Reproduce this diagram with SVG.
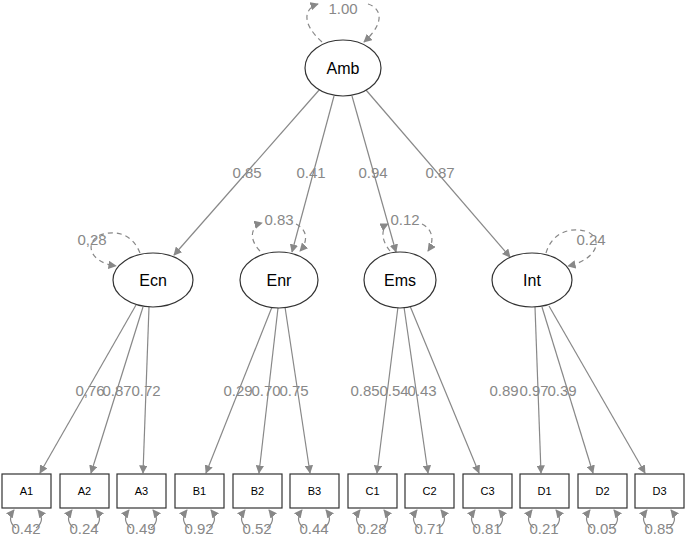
<svg xmlns="http://www.w3.org/2000/svg" width="685" height="536" viewBox="0 0 685 536">
<style>
text{font-family:"Liberation Sans",Arial,sans-serif}
.lbl{fill:#888;font-size:15px;text-anchor:middle}
.nt{fill:#000;font-size:16px;text-anchor:middle}
.bt{fill:#000;font-size:11px;text-anchor:middle}
.n{fill:#fff;stroke:#333;stroke-width:1.2}
.e{stroke:#888;stroke-width:1.2;fill:none;marker-end:url(#a)}
.d{stroke:#888;stroke-width:1.2;fill:none;stroke-dasharray:5,4;marker-end:url(#a)}
</style>
<defs>
<marker id="a" viewBox="0 0 10 10" refX="9" refY="5" markerWidth="7" markerHeight="7" orient="auto-start-reverse"><path d="M0,0L10,5L0,10z" fill="#888"/></marker>
</defs>
<rect width="685" height="536" fill="#fff"/>
<g id="connectors">
<path class="d" d="M322,42 C300,22 305,8 318,4"/><path class="d" d="M368,4 C381,8 386,22 364,42"/>
<text class="lbl" x="343" y="14">1.00</text>
<line class="e" x1="320" y1="89" x2="174" y2="255"/>
<line class="e" x1="334" y1="96" x2="292" y2="252"/>
<line class="e" x1="352" y1="96" x2="396" y2="252"/>
<line class="e" x1="366" y1="90" x2="510" y2="257"/>
<text class="lbl" x="247" y="178">0.85</text>
<text class="lbl" x="311" y="178">0.41</text>
<text class="lbl" x="373" y="178">0.94</text>
<text class="lbl" x="440" y="178">0.87</text>
<path class="d" d="M140,253 C132,233 115,230 100,235 C85,242 88,262 116,266"/>
<text class="lbl" x="92" y="245">0,28</text>
<path class="d" d="M260,251 C246,236 254,225 262,223"/><path class="d" d="M296,224 C308,230 308,242 300,251"/>
<text class="lbl" x="279" y="225">0.83</text>
<path class="d" d="M390,251 C378,236 384,226 388,224"/><path class="d" d="M422,224 C434,230 434,242 428,251"/>
<text class="lbl" x="405" y="225">0.12</text>
<path class="d" d="M546,253 C552,232 572,226 588,232 C604,240 596,260 568,266"/>
<text class="lbl" x="591" y="245">0.24</text>
<line class="e" x1="136" y1="305" x2="40" y2="473"/>
<line class="e" x1="143" y1="307" x2="91" y2="473"/>
<line class="e" x1="149" y1="307" x2="143" y2="473"/>
<line class="e" x1="272" y1="307" x2="206" y2="473"/>
<line class="e" x1="278" y1="308" x2="259" y2="473"/>
<line class="e" x1="285" y1="307" x2="310" y2="473"/>
<line class="e" x1="398" y1="307" x2="377" y2="473"/>
<line class="e" x1="404" y1="307" x2="428" y2="473"/>
<line class="e" x1="410" y1="306" x2="479" y2="473"/>
<line class="e" x1="535" y1="307" x2="541" y2="473"/>
<line class="e" x1="542" y1="307" x2="593" y2="473"/>
<line class="e" x1="549" y1="306" x2="645" y2="473"/>
<text class="lbl" x="90" y="396">0,76</text><text class="lbl" x="117" y="396">0.87</text><text class="lbl" x="146" y="396">0.72</text>
<text class="lbl" x="238" y="396">0.29</text><text class="lbl" x="266" y="396">0.70</text><text class="lbl" x="294" y="396">0.75</text>
<text class="lbl" x="365" y="396">0.85</text><text class="lbl" x="394" y="396">0.54</text><text class="lbl" x="422" y="396">0.43</text>
<text class="lbl" x="504" y="396">0.89</text><text class="lbl" x="534" y="396">0.97</text><text class="lbl" x="562" y="396">0.39</text>
</g>
<g id="residuals">
<g id="rA1"><path class="e" d="M16,528 C8,522 10,515 14,510"/><path class="e" d="M36,528 C44,522 42,515 38,510"/><text class="lbl" x="26" y="534">0.42</text></g>
<g id="rA2"><path class="e" d="M74,528 C66,522 68,515 72,510"/><path class="e" d="M94,528 C102,522 100,515 96,510"/><text class="lbl" x="84" y="534">0.24</text></g>
<g id="rA3"><path class="e" d="M131,528 C123,522 125,515 129,510"/><path class="e" d="M151,528 C159,522 157,515 153,510"/><text class="lbl" x="141" y="534">0.49</text></g>
<g id="rB1"><path class="e" d="M189,528 C181,522 183,515 187,510"/><path class="e" d="M209,528 C217,522 215,515 211,510"/><text class="lbl" x="199" y="534">0.92</text></g>
<g id="rB2"><path class="e" d="M247,528 C239,522 241,515 245,510"/><path class="e" d="M267,528 C275,522 273,515 269,510"/><text class="lbl" x="257" y="534">0.52</text></g>
<g id="rB3"><path class="e" d="M304,528 C296,522 298,515 302,510"/><path class="e" d="M324,528 C332,522 330,515 326,510"/><text class="lbl" x="314" y="534">0.44</text></g>
<g id="rC1"><path class="e" d="M362,528 C354,522 356,515 360,510"/><path class="e" d="M382,528 C390,522 388,515 384,510"/><text class="lbl" x="372" y="534">0.28</text></g>
<g id="rC2"><path class="e" d="M419,528 C411,522 413,515 417,510"/><path class="e" d="M439,528 C447,522 445,515 441,510"/><text class="lbl" x="429" y="534">0.71</text></g>
<g id="rC3"><path class="e" d="M477,528 C469,522 471,515 475,510"/><path class="e" d="M497,528 C505,522 503,515 499,510"/><text class="lbl" x="487" y="534">0.81</text></g>
<g id="rD1"><path class="e" d="M534,528 C526,522 528,515 532,510"/><path class="e" d="M554,528 C562,522 560,515 556,510"/><text class="lbl" x="544" y="534">0.21</text></g>
<g id="rD2"><path class="e" d="M592,528 C584,522 586,515 590,510"/><path class="e" d="M612,528 C620,522 618,515 614,510"/><text class="lbl" x="602" y="534">0.05</text></g>
<g id="rD3"><path class="e" d="M649,528 C641,522 643,515 647,510"/><path class="e" d="M669,528 C677,522 675,515 671,510"/><text class="lbl" x="659" y="534">0.85</text></g>
</g>
<g id="Amb"><ellipse class="n" cx="343" cy="68" rx="38" ry="28"/><text class="nt" x="343" y="74">Amb</text></g>
<g id="Ecn"><ellipse class="n" cx="153" cy="280" rx="40" ry="27"/><text class="nt" x="153" y="286">Ecn</text></g>
<g id="Enr"><ellipse class="n" cx="279" cy="280" rx="39" ry="28"/><text class="nt" x="279" y="286">Enr</text></g>
<g id="Ems"><ellipse class="n" cx="400" cy="280" rx="36" ry="28"/><text class="nt" x="400" y="286">Ems</text></g>
<g id="Int"><ellipse class="n" cx="532" cy="280" rx="40" ry="27"/><text class="nt" x="532" y="286">Int</text></g>
<g id="A1"><rect class="n" x="2" y="474" width="49" height="34"/><text class="bt" x="26.5" y="495">A1</text></g>
<g id="A2"><rect class="n" x="60" y="474" width="49" height="34"/><text class="bt" x="84.5" y="495">A2</text></g>
<g id="A3"><rect class="n" x="117" y="474" width="49" height="34"/><text class="bt" x="141.5" y="495">A3</text></g>
<g id="B1"><rect class="n" x="175" y="474" width="49" height="34"/><text class="bt" x="199.5" y="495">B1</text></g>
<g id="B2"><rect class="n" x="233" y="474" width="49" height="34"/><text class="bt" x="257.5" y="495">B2</text></g>
<g id="B3"><rect class="n" x="290" y="474" width="49" height="34"/><text class="bt" x="314.5" y="495">B3</text></g>
<g id="C1"><rect class="n" x="348" y="474" width="49" height="34"/><text class="bt" x="372.5" y="495">C1</text></g>
<g id="C2"><rect class="n" x="405" y="474" width="49" height="34"/><text class="bt" x="429.5" y="495">C2</text></g>
<g id="C3"><rect class="n" x="463" y="474" width="49" height="34"/><text class="bt" x="487.5" y="495">C3</text></g>
<g id="D1"><rect class="n" x="520" y="474" width="49" height="34"/><text class="bt" x="544.5" y="495">D1</text></g>
<g id="D2"><rect class="n" x="578" y="474" width="49" height="34"/><text class="bt" x="602.5" y="495">D2</text></g>
<g id="D3"><rect class="n" x="635" y="474" width="49" height="34"/><text class="bt" x="659.5" y="495">D3</text></g>
</svg>
